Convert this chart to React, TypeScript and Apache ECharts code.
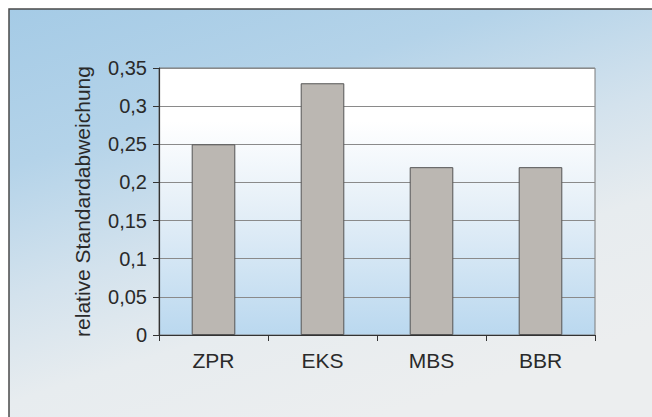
import React, { useEffect, useRef } from "react";
import * as echarts from "echarts";

const categories = ["ZPR", "EKS", "MBS", "BBR"];
const values = [0.25, 0.33, 0.22, 0.22];
const yTicks = { min: 0, max: 0.35, interval: 0.05 };
const yAxisTitle = "relative Standardabweichung";

export default function App() {
  const ref = useRef<HTMLDivElement>(null);
  useEffect(() => {
    document.body.style.margin = "0";
    const chart = echarts.init(ref.current!, null, { renderer: "svg" });
    chart.setOption({
      animation: false,
      backgroundColor: "#ffffff",
      textStyle: { fontFamily: "Liberation Sans, Arial, sans-serif" },
      graphic: [
        {
          type: "rect",
          z: -10,
          silent: true,
          shape: { x: 9, y: 9, width: 660, height: 420 },
          style: {
            fill: new echarts.graphic.LinearGradient(0, 0, 0.5, 1, [
              { offset: 0, color: "#a5cbe6" },
              { offset: 0.3, color: "#b4d3e9" },
              { offset: 0.55, color: "#d3e2ed" },
              { offset: 0.75, color: "#e7ecef" },
              { offset: 1, color: "#eceeef" },
            ]),
            stroke: "#4a4a4a",
            lineWidth: 1.5,
          },
        },
      ],
      grid: {
        left: 159,
        right: 57,
        top: 68,
        bottom: 82,
        show: true,
        borderColor: "#7a7a7a",
        borderWidth: 1,
        backgroundColor: new echarts.graphic.LinearGradient(0, 0, 0, 1, [
          { offset: 0, color: "#ffffff" },
          { offset: 0.2, color: "#ffffff" },
          { offset: 0.55, color: "#e3eef7" },
          { offset: 1, color: "#bad8ef" },
        ]),
      },
      xAxis: {
        type: "category",
        data: categories,
        boundaryGap: true,
        axisLine: { lineStyle: { color: "#333", width: 1.2 } },
        axisTick: { show: true, length: 6, alignWithLabel: false, lineStyle: { color: "#333" } },
        axisLabel: { color: "#2a2a2a", fontSize: 21, margin: 15 },
      },
      yAxis: {
        type: "value",
        min: yTicks.min,
        max: yTicks.max,
        interval: yTicks.interval,
        name: yAxisTitle,
        nameLocation: "middle",
        nameRotate: 90,
        nameGap: 66,
        nameTextStyle: { color: "#2a2a2a", fontSize: 21 },
        axisLine: { show: true, lineStyle: { color: "#333", width: 1.2 } },
        axisTick: { show: true, length: 6, lineStyle: { color: "#333" } },
        axisLabel: {
          color: "#2a2a2a",
          fontSize: 20,
          margin: 12,
          formatter: (v: number) => String(Math.round(v * 100) / 100).replace(".", ","),
        },
        splitLine: { show: true, lineStyle: { color: "#8a8a8a", width: 1 } },
      },
      series: [
        {
          type: "bar",
          data: values,
          barWidth: "40%",
          itemStyle: { color: "#bbb7b2", borderColor: "#555555", borderWidth: 1 },
        },
      ],
    });
    return () => chart.dispose();
  }, []);
  return <div ref={ref} style={{ width: 652, height: 417 }} />;
}
